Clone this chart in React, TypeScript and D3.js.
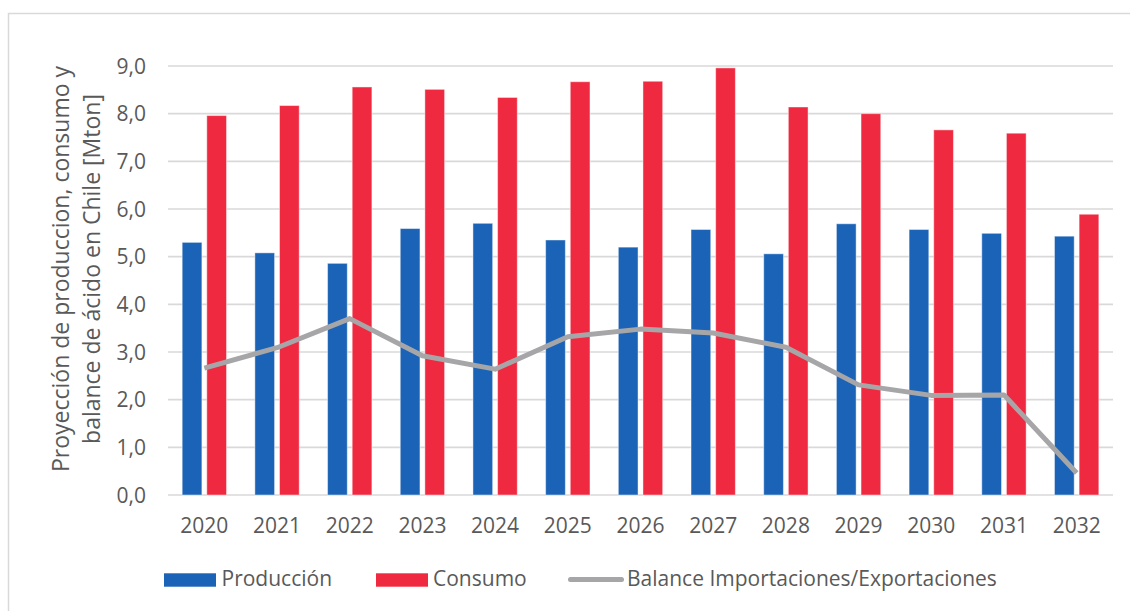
import React from "react";
import * as d3 from "d3";

const years = ["2020","2021","2022","2023","2024","2025","2026","2027","2028","2029","2030","2031","2032"];
const produccion = [5.30, 5.08, 4.86, 5.59, 5.70, 5.35, 5.20, 5.57, 5.06, 5.69, 5.57, 5.49, 5.43];
const consumo = [7.96, 8.17, 8.56, 8.51, 8.34, 8.67, 8.68, 8.96, 8.14, 8.00, 7.66, 7.59, 5.89];
const balance = [2.66, 3.09, 3.70, 2.92, 2.64, 3.32, 3.48, 3.40, 3.10, 2.31, 2.09, 2.10, 0.46];
const yTicks = [0, 1, 2, 3, 4, 5, 6, 7, 8, 9];
const seriesNames = ["Producción", "Consumo", "Balance Importaciones/Exportaciones"];
const titleLines = ["Proyección de produccion, consumo y", "balance de ácido en Chile [Mton]"];

const W = 1130, H = 611;
const left = 168, right = 1113, top = 66, bottom = 495;
const BLUE = "#1a63b6", RED = "#ef293f", GREY = "#a6a6a8", GRID = "#d9d9d9", TXT = "#595959";
const FONT = "'Open Sans', sans-serif";

export default function App() {
  const x = d3.scaleBand<string>().domain(years).range([left, right]).paddingInner(0.39).paddingOuter(0.195);
  const x1 = d3.scaleBand<string>().domain(["p", "c"]).range([0, x.bandwidth()]).paddingInner(0.2);
  const y = d3.scaleLinear().domain([0, 9]).range([bottom, top]);
  const fmt = (v: number) => v.toFixed(1).replace(".", ",");
  const line = d3.line<number>()
    .x((_, i) => (x(years[i]) as number) + x.bandwidth() / 2)
    .y((d) => y(d));

  return (
    <svg width={W} height={H} style={{ position: "absolute", left: 0, top: 0 }} fontFamily={FONT}>
      <rect x={0} y={0} width={W} height={H} fill="#fff" />
      <rect x={8.5} y={13.5} width={W + 10} height={H + 10} fill="none" stroke={GRID} strokeWidth={1.5} />
      {yTicks.map((t) => (
        <g key={t}>
          <line x1={left} x2={right} y1={y(t)} y2={y(t)} stroke={GRID} strokeWidth={1.6} />
          <text x={146} y={y(t)} dy="0.36em" textAnchor="end" fontSize={21} fill={TXT}>{fmt(t)}</text>
        </g>
      ))}
      {years.map((yr, i) => {
        const bx = x(yr) as number;
        return (
          <g key={yr}>
            <rect x={bx + (x1("p") as number)} y={y(produccion[i])} width={x1.bandwidth()} height={bottom - y(produccion[i])}
              fill={BLUE} stroke="#ffffff" strokeOpacity={0.45} strokeWidth={1} />
            <rect x={bx + (x1("c") as number)} y={y(consumo[i])} width={x1.bandwidth()} height={bottom - y(consumo[i])}
              fill={RED} stroke="#ffffff" strokeOpacity={0.45} strokeWidth={1} />
            <text x={bx + x.bandwidth() / 2} y={533} textAnchor="middle" fontSize={21} fill={TXT}>{yr}</text>
          </g>
        );
      })}
      <path d={line(balance) || ""} fill="none" stroke={GREY} strokeWidth={5} strokeLinejoin="round" strokeLinecap="butt" />
      <g transform="translate(0,269) rotate(-90)" fontSize={23} fill={TXT} textAnchor="middle">
        <text x={0} y={69}>{titleLines[0]}</text>
        <text x={0} y={100}>{titleLines[1]}</text>
      </g>
      <g fontSize={21} fill={TXT}>
        <rect x={164} y={573.3} width={52} height={13.4} fill={BLUE} />
        <text x={221.5} y={586}>{seriesNames[0]}</text>
        <rect x={376} y={573.3} width={52} height={13.4} fill={RED} />
        <text x={433} y={586}>{seriesNames[1]}</text>
        <line x1={570.5} x2={621.5} y1={579.5} y2={579.5} stroke={GREY} strokeWidth={5} strokeLinecap="round" />
        <text x={627} y={586}>{seriesNames[2]}</text>
      </g>
    </svg>
  );
}
